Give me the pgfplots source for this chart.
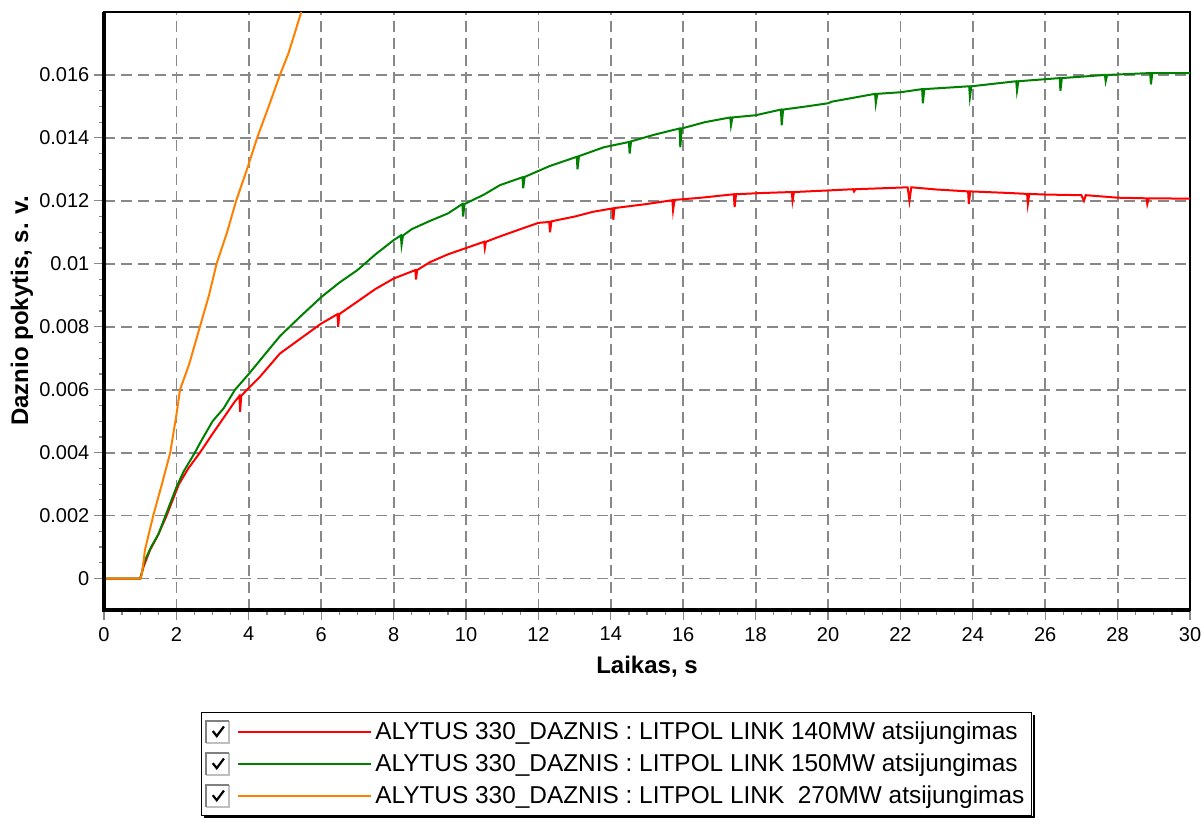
\documentclass[border=0pt]{standalone}
\usepackage{pgfplots}
\pgfplotsset{compat=1.18}
\usepackage{fontspec}
\setmainfont{Liberation Sans}
\definecolor{cRed}{RGB}{255,0,0}
\definecolor{cGreen}{RGB}{0,128,0}
\definecolor{cOrange}{RGB}{255,128,0}
\definecolor{gridgray}{RGB}{136,136,136}
\begin{document}
\begin{tikzpicture}
\begin{axis}[name=ax, scale only axis, width=543pt, height=299pt,
  xmin=0, xmax=30, ymin=-0.001, ymax=0.018,
  xtick={0,2,...,30},
  ytick={0,0.002,0.004,0.006,0.008,0.01,0.012,0.014,0.016},
  minor x tick num=3, minor y tick num=3,
  tick align=outside, tick pos=left,
  major tick length=5pt, minor tick length=2.5pt,
  every tick/.style={gridgray, line width=0.6pt},
  grid=major,
  major grid style={gridgray, line width=0.9pt, dash pattern=on 5.5pt off 3pt},
  axis line style={black, line width=0.9pt},
  scaled y ticks=false,
  yticklabel style={/pgf/number format/fixed, /pgf/number format/precision=3, xshift=1.2pt},
  /pgf/number format/assume math mode=true,
  tick label style={font=\fontsize{10}{12}\selectfont},
  xlabel={Laikas, s}, ylabel={Daznio pokytis, s. v.},
  label style={font=\fontsize{12}{14}\selectfont\bfseries},
  xlabel style={at={(axis description cs:0.5,-0.1054)}, anchor=base},
  ylabel style={at={(axis description cs:-0.0755,0.5)}, anchor=center},
  clip mode=individual,
  legend cell align=left,
  legend style={name=lgd, at={(axis description cs:0.0891,-0.1701)}, anchor=north west,
    draw=black, line width=0.6pt, fill=white,
    font=\fontsize{12.2}{14}\selectfont,
    inner xsep=2pt, inner ysep=3pt, row sep=2.7pt, column sep=0pt,
    nodes={inner xsep=1.5pt, inner ysep=1.5pt}},
  legend image code/.code={
    \fill[white] (0pt,-5.5pt) rectangle (11.5pt,5.5pt);
    \draw[line width=1pt, gray!50] (11.5pt,5.5pt) -- (11.5pt,-5.5pt) -- (0pt,-5.5pt);
    \draw[line width=1pt, gray] (0pt,-5.5pt) -- (0pt,5.5pt) -- (11.5pt,5.5pt);
    \draw[line width=1.1pt, black] (3.2pt,0.3pt) -- (5.2pt,-2.2pt) -- (8.8pt,2.6pt);
    \draw[#1, line width=0.9pt] (16pt,0pt) -- (82.5pt,0pt);
  },
]
\addplot[cRed, line width=1pt] coordinates {
(0,0) (1.0,0) (1.05,0.0002) (1.1,0.0004) (1.27,0.0009) (1.5,0.0014) (1.73,0.0020) (1.9,0.0025) (2.07,0.0030) (2.33,0.0035) (2.65,0.0040) (3.0,0.0046) (3.3,0.0051) (3.6,0.0056) (3.74,0.0058) (3.76,0.0053) (3.79,0.0058) (3.95,0.0060) (4.3,0.0064) (4.86,0.00715) (5.4,0.0076) (6.0,0.0081) (6.45,0.0084) (6.47,0.0080) (6.5,0.0084) (7.0,0.0088) (7.5,0.0092) (8.0,0.00953) (8.6,0.0098) (8.62,0.0095) (8.65,0.0098) (9.0,0.01005) (9.5,0.0103) (10.0,0.0105) (10.5,0.0107) (10.52,0.0105) (10.55,0.0107) (10.94,0.01087) (11.5,0.0111) (12.0,0.0113) (12.3,0.01133) (12.32,0.0110) (12.36,0.01135) (13.0,0.0115) (13.5,0.01165) (14.05,0.01176) (14.07,0.0114) (14.1,0.01177) (15.0,0.0119) (15.7,0.01202) (15.72,0.0117) (15.76,0.01203) (16.5,0.0121) (17.4,0.01221) (17.42,0.0118) (17.46,0.01221) (18.2,0.01225) (19.0,0.01228) (19.02,0.0120) (19.06,0.01228) (20.0,0.01233) (20.7,0.01237) (20.72,0.0123) (20.76,0.01237) (21.5,0.0124) (22.2,0.01243) (22.25,0.0120) (22.3,0.01243) (23.0,0.01236) (23.87,0.0123) (23.89,0.0119) (23.93,0.0123) (25.0,0.01225) (25.5,0.01222) (25.52,0.0119) (25.56,0.01222) (26.0,0.0122) (27.0,0.01218) (27.07,0.0120) (27.12,0.01218) (28.0,0.0121) (28.8,0.01208) (28.82,0.0119) (28.86,0.01208) (30,0.01207)
};
\addlegendentry{ALYTUS 330\_DAZNIS : LITPOL LINK 140MW atsijungimas}
\addplot[cGreen, line width=1pt] coordinates {
(0,0) (1.0,0) (1.05,0.0002) (1.1,0.0005) (1.3,0.0010) (1.5,0.0014) (1.7,0.0020) (2.0,0.0029) (2.2,0.0034) (2.51,0.0040) (2.65,0.0043) (3.0,0.0050) (3.3,0.0054) (3.62,0.0060) (4.0,0.0065) (4.5,0.0072) (4.86,0.0077) (5.4,0.0083) (6.0,0.00894) (6.5,0.0094) (7.0,0.0098) (7.5,0.0103) (8.0,0.01075) (8.2,0.0109) (8.22,0.0106) (8.26,0.0109) (8.5,0.0111) (9.0,0.01136) (9.5,0.0116) (9.9,0.0119) (9.92,0.0115) (9.96,0.0119) (10.5,0.0122) (10.94,0.0125) (11.56,0.01275) (11.58,0.0124) (11.62,0.01276) (12.3,0.0131) (13.06,0.0134) (13.08,0.0130) (13.12,0.01342) (13.8,0.0137) (14.5,0.01387) (14.52,0.0135) (14.56,0.01389) (15.2,0.0141) (15.9,0.0143) (15.92,0.0137) (15.96,0.0143) (16.6,0.0145) (17.3,0.01465) (17.32,0.0144) (17.36,0.01465) (18.0,0.01472) (18.7,0.0149) (18.72,0.0144) (18.76,0.0149) (19.4,0.0150) (20.0,0.0151) (20.1,0.01515) (21.3,0.0154) (21.32,0.0151) (21.36,0.0154) (22.0,0.01545) (22.6,0.01555) (22.62,0.0151) (22.66,0.01555) (23.9,0.01564) (23.92,0.0153) (23.96,0.01564) (25.2,0.0158) (25.22,0.0155) (25.26,0.0158) (26.4,0.0159) (26.42,0.0155) (26.46,0.0159) (27.65,0.0160) (27.67,0.0158) (27.71,0.0160) (28.9,0.01606) (28.92,0.0157) (28.96,0.01606) (30,0.01606)
};
\addlegendentry{ALYTUS 330\_DAZNIS : LITPOL LINK 150MW atsijungimas}
\addplot[cOrange, line width=1pt] coordinates {
(0,0) (1.0,0) (1.04,0.0001) (1.1,0.0006) (1.13,0.0009) (1.36,0.0020) (1.6,0.0030) (1.83,0.0040) (2.0,0.0052) (2.1,0.0060) (2.35,0.0068) (2.65,0.0080) (2.9,0.0090) (3.11,0.0100) (3.4,0.0110) (3.65,0.0120) (3.95,0.0130) (4.23,0.0140) (4.55,0.0150) (4.86,0.0160) (5.1,0.0167) (5.45,0.0180) (5.6,0.0185)
};
\addlegendentry{ALYTUS 330\_DAZNIS : LITPOL LINK \ 270MW atsijungimas}
\draw[black, line width=1.6pt, line join=miter] (rel axis cs:0,1) -- (rel axis cs:0,0) -- (rel axis cs:1,0);
\end{axis}
\draw[black, line width=1pt] ([shift={(1.5pt,-0.8pt)}]lgd.south west) -- ([shift={(0.8pt,-0.8pt)}]lgd.south east) -- ([shift={(0.8pt,-1.5pt)}]lgd.north east);
\pgfresetboundingbox
\path ([shift={(-52pt,-104.5pt)}]ax.south west) rectangle ([shift={(6pt,6pt)}]ax.north east);
\end{tikzpicture}
\end{document}
